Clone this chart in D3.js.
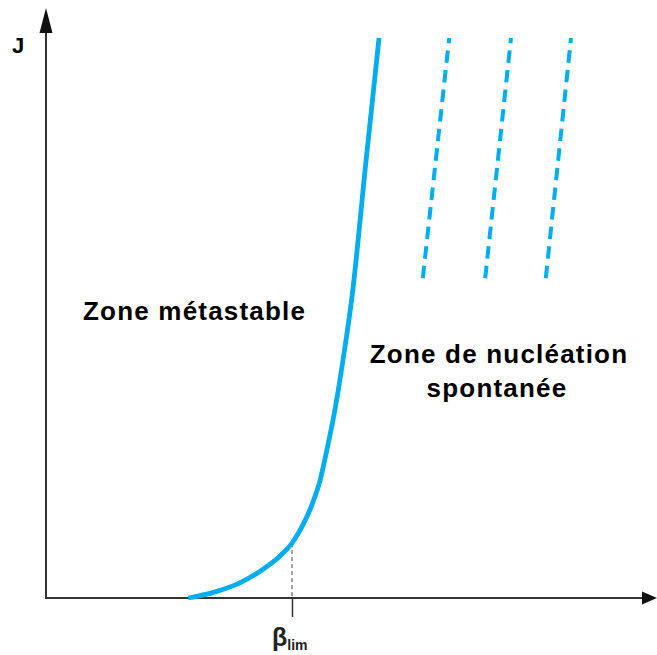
<!DOCTYPE html>
<html>
<head>
<meta charset="utf-8">
<script src="https://cdn.jsdelivr.net/npm/d3@7"></script>
<style>
  body { margin: 0; background: #fff; }
  svg { display: block; font-family: Arial, "Liberation Sans", sans-serif; }
</style>
</head>
<body>
<script>
"use strict";
(function(){
    // Curve J(beta)
    const betaValues = [2.37, 2.82, 3.23, 3.6, 3.9, 4.1, 4.28, 4.43, 4.57, 4.68, 4.8, 4.95, 5.1, 5.33, 5.55];
    const jValues    = [0, 0.11, 0.27, 0.5, 0.75, 0.98, 1.3, 1.66, 2.11, 2.64, 3.27, 4.25, 5.38, 7.77, 10];

    // beta limit point on the curve
    const betaLim = 4.1;
    const jLim = 0.98;

    // Dashed lines: [betaTop, betaBottom]
    const dashTops    = [6.72, 7.75, 8.75];
    const dashBottoms = [6.28, 7.32, 8.33];
    const dashJTop = 10;
    const dashJBottom = 5.71;

    const measurements = { width: 657, height: 655 };
    const blue = "#00adef";
    const axisColor = "#333";

    const svg = d3.select("body").append("svg")
        .attr("width", measurements.width)
        .attr("height", measurements.height);

    const scaleX = d3.scaleLinear().domain([0, 10]).range([46, 646]);
    const scaleY = d3.scaleLinear().domain([0, 10]).range([598, 38]);

    // x axis with one tick at beta_lim
    const xAxis = d3.axisBottom(scaleX)
        .tickValues([betaLim])
        .tickSize(19)
        .tickSizeOuter(0)
        .tickFormat("");
    const gx = svg.append("g")
        .attr("transform", "translate(0," + scaleY(0) + ")")
        .call(xAxis);
    gx.select(".domain").remove();
    gx.selectAll(".tick line")
        .attr("stroke", axisColor)
        .attr("stroke-width", 1.5);

    // axis lines
    svg.append("line")
        .attr("x1", scaleX(0) - 1).attr("y1", scaleY(0))
        .attr("x2", 644).attr("y2", scaleY(0))
        .attr("stroke", axisColor).attr("stroke-width", 2);
    svg.append("line")
        .attr("x1", scaleX(0)).attr("y1", scaleY(0) + 1)
        .attr("x2", scaleX(0)).attr("y2", 30)
        .attr("stroke", axisColor).attr("stroke-width", 2);

    // arrow heads
    const x0 = scaleX(0), y0 = scaleY(0);
    svg.append("path")
        .attr("d", "M" + (x0 - 6.5) + ",33 L" + x0 + ",8 L" + (x0 + 6.5) + ",33 Z")
        .attr("fill", "#111");
    svg.append("path")
        .attr("d", "M642," + (y0 - 6.5) + " L657," + y0 + " L642," + (y0 + 6.5) + " Z")
        .attr("fill", "#111");

    // dashed drop line from curve to the axis at beta_lim
    svg.append("line")
        .attr("x1", scaleX(betaLim)).attr("y1", scaleY(jLim))
        .attr("x2", scaleX(betaLim)).attr("y2", scaleY(0))
        .attr("stroke", "#444")
        .attr("stroke-width", 1)
        .attr("stroke-dasharray", "4,3");

    // main curve
    const points = betaValues.map((b, i) => [b, jValues[i]]);
    const line = d3.line()
        .x(d => scaleX(d[0]))
        .y(d => scaleY(d[1]))
        .curve(d3.curveMonotoneX);
    svg.append("path")
        .datum(points)
        .attr("d", line)
        .attr("fill", "none")
        .attr("stroke", blue)
        .attr("stroke-width", 4.8)
        .attr("stroke-linecap", "butt");

    // dashed lines (drawn bottom to top)
    svg.selectAll(".dashed")
        .data(dashTops)
        .enter()
        .append("line")
        .attr("class", "dashed")
        .attr("x1", (d, i) => scaleX(dashBottoms[i]))
        .attr("y1", scaleY(dashJBottom))
        .attr("x2", d => scaleX(d))
        .attr("y2", scaleY(dashJTop))
        .attr("stroke", blue)
        .attr("stroke-width", 4)
        .attr("stroke-dasharray", "12.5,7.2");

    // labels
    svg.append("text")
        .attr("x", 12).attr("y", 53)
        .attr("font-size", 22).attr("font-weight", "bold")
        .text("J");

    svg.append("text")
        .attr("x", 83).attr("y", 320)
        .attr("font-size", 26).attr("font-weight", "bold")
        .attr("letter-spacing", 1.2)
        .text("Zone métastable");

    svg.append("text")
        .attr("x", 499).attr("y", 363)
        .attr("text-anchor", "middle")
        .attr("font-size", 26).attr("font-weight", "bold")
        .attr("letter-spacing", 1.2)
        .text("Zone de nucléation");

    svg.append("text")
        .attr("x", 497).attr("y", 397)
        .attr("text-anchor", "middle")
        .attr("font-size", 26).attr("font-weight", "bold")
        .attr("letter-spacing", 1.2)
        .text("spontanée");

    const betaText = svg.append("text")
        .attr("x", 272).attr("y", 646)
        .attr("font-size", 25)
        .attr("font-weight", "bold")
        .attr("fill", "#222");
    betaText.append("tspan").text("β");
    betaText.append("tspan")
        .attr("font-size", 14)
        .attr("dy", 4)
        .text("lim");
})()
</script>
</body>
</html>
